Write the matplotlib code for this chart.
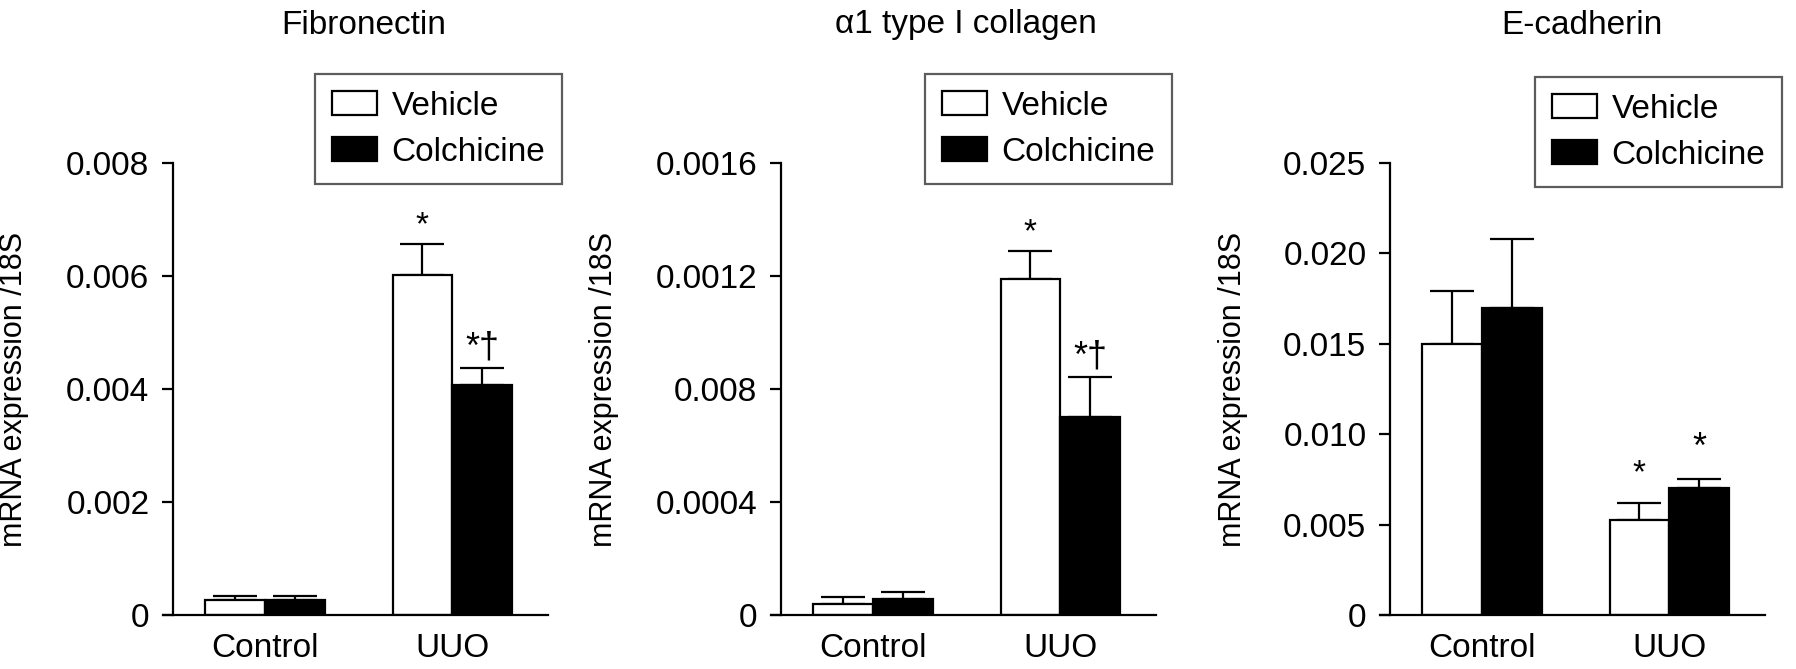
import numpy as np
import matplotlib
matplotlib.use('Agg')
import matplotlib.pyplot as plt

plt.rcParams['font.family'] = ['Liberation Sans', 'DejaVu Sans']

groups = ['Control', 'UUO']
series = ['Vehicle', 'Colchicine']

# Fibronectin
fn_vehicle = [0.00027, 0.00602]
fn_vehicle_err = [0.00007, 0.00055]
fn_colch = [0.00026, 0.00407]
fn_colch_err = [0.00008, 0.00030]

# alpha1 type I collagen
col_vehicle = [0.00004, 0.00119]
col_vehicle_err = [0.000023, 0.0001]
col_colch = [0.000056, 0.000702]
col_colch_err = [0.000024, 0.00014]

# E-cadherin
ecad_vehicle = [0.0150, 0.00525]
ecad_vehicle_err = [0.0029, 0.00095]
ecad_colch = [0.0170, 0.0070]
ecad_colch_err = [0.0038, 0.0005]

titles = ['Fibronectin', 'α1 type I collagen', 'E-cadherin']
ytick_vals = [[0, 0.002, 0.004, 0.006, 0.008],
              [0, 0.0004, 0.0008, 0.0012, 0.0016],
              [0, 0.005, 0.010, 0.015, 0.020, 0.025]]
ytick_labels = [['0', '0.002', '0.004', '0.006', '0.008'],
                ['0', '0.0004', '0.008', '0.0012', '0.0016'],
                ['0', '0.005', '0.010', '0.015', '0.020', '0.025']]
marks_vehicle = [['', '*'], ['', '*'], ['', '*']]
marks_colch = [['', '*†'], ['', '*†'], ['', '*']]

data = [(fn_vehicle, fn_vehicle_err, fn_colch, fn_colch_err),
        (col_vehicle, col_vehicle_err, col_colch, col_colch_err),
        (ecad_vehicle, ecad_vehicle_err, ecad_colch, ecad_colch_err)]

W, H = 1796, 669
fig = plt.figure(figsize=(W / 100, H / 100), dpi=100)

ax_left_px = [163, 771, 1380]
ax_w_px = 385
ax_bottom_px, ax_top_px = 615, 163
title_x_px = [364, 966, 1582]
ylabel_x_px = [29, 619, 1248]
legend_corner = [(562, 74), (1172, 74), (1782, 77)]
star_offset = [2, 2, 10]

x = np.arange(len(groups))
bw = 0.32

for i in range(3):
    v, ve, c, ce = data[i]
    ax = fig.add_axes([ax_left_px[i] / W, 1 - ax_bottom_px / H,
                       ax_w_px / W, (ax_bottom_px - ax_top_px) / H])
    ax.bar(x - bw / 2, v, bw, color='white', edgecolor='black', linewidth=1.6,
           label=series[0], zorder=2)
    ax.bar(x + bw / 2, c, bw, color='black', edgecolor='black', linewidth=1.6,
           label=series[1], zorder=2)
    ax.errorbar(x - bw / 2, v, yerr=[np.zeros(2), ve], fmt='none', ecolor='black',
                elinewidth=1.6, capsize=16, capthick=1.6, zorder=1)
    ax.errorbar(x + bw / 2, c, yerr=[np.zeros(2), ce], fmt='none', ecolor='black',
                elinewidth=1.6, capsize=16, capthick=1.6, zorder=1)
    for j in range(2):
        if marks_vehicle[i][j]:
            ax.annotate(marks_vehicle[i][j], (x[j] - bw / 2, v[j] + ve[j]),
                        xytext=(0, star_offset[i]), textcoords='offset points',
                        ha='center', va='bottom', fontsize=24)
        if marks_colch[i][j]:
            ax.annotate(marks_colch[i][j], (x[j] + bw / 2, c[j] + ce[j]),
                        xytext=(0, star_offset[i]), textcoords='offset points',
                        ha='center', va='bottom', fontsize=26)

    ax.set_xlim(-0.545, 1.51)
    ax.set_ylim(0, ytick_vals[i][-1])
    ax.set_yticks(ytick_vals[i])
    ax.set_yticklabels(ytick_labels[i])
    ax.set_xticks(x)
    ax.set_xticklabels(groups)
    ax.tick_params(axis='y', length=8, width=1.6, labelsize=24, pad=9)
    ax.tick_params(axis='x', length=0, labelsize=24, pad=13)
    for s in ['top', 'right']:
        ax.spines[s].set_visible(False)
    ax.spines['left'].set_position(('axes', 10 / ax_w_px))
    ax.spines['left'].set_linewidth(1.6)
    ax.spines['bottom'].set_linewidth(1.6)
    ax.set_ylabel('mRNA expression /18S', fontsize=22)
    ax.yaxis.set_label_coords((ylabel_x_px[i] - ax_left_px[i]) / ax_w_px, 0.5)

    fig.text(title_x_px[i] / W, 1 - 25 / H, titles[i], ha='center', va='center',
             fontsize=24)

    lx, ly = legend_corner[i]
    leg = ax.legend(loc='upper right', bbox_to_anchor=(lx / W, 1 - ly / H),
                    bbox_transform=fig.transFigure, fontsize=24, frameon=True,
                    fancybox=False, edgecolor='#333333', borderaxespad=0,
                    handlelength=1.35, handleheight=0.72, handletextpad=0.45,
                    borderpad=0.5, labelspacing=0.45)
    leg.get_frame().set_linewidth(1.6)

fig.savefig('out.png', dpi=100)
